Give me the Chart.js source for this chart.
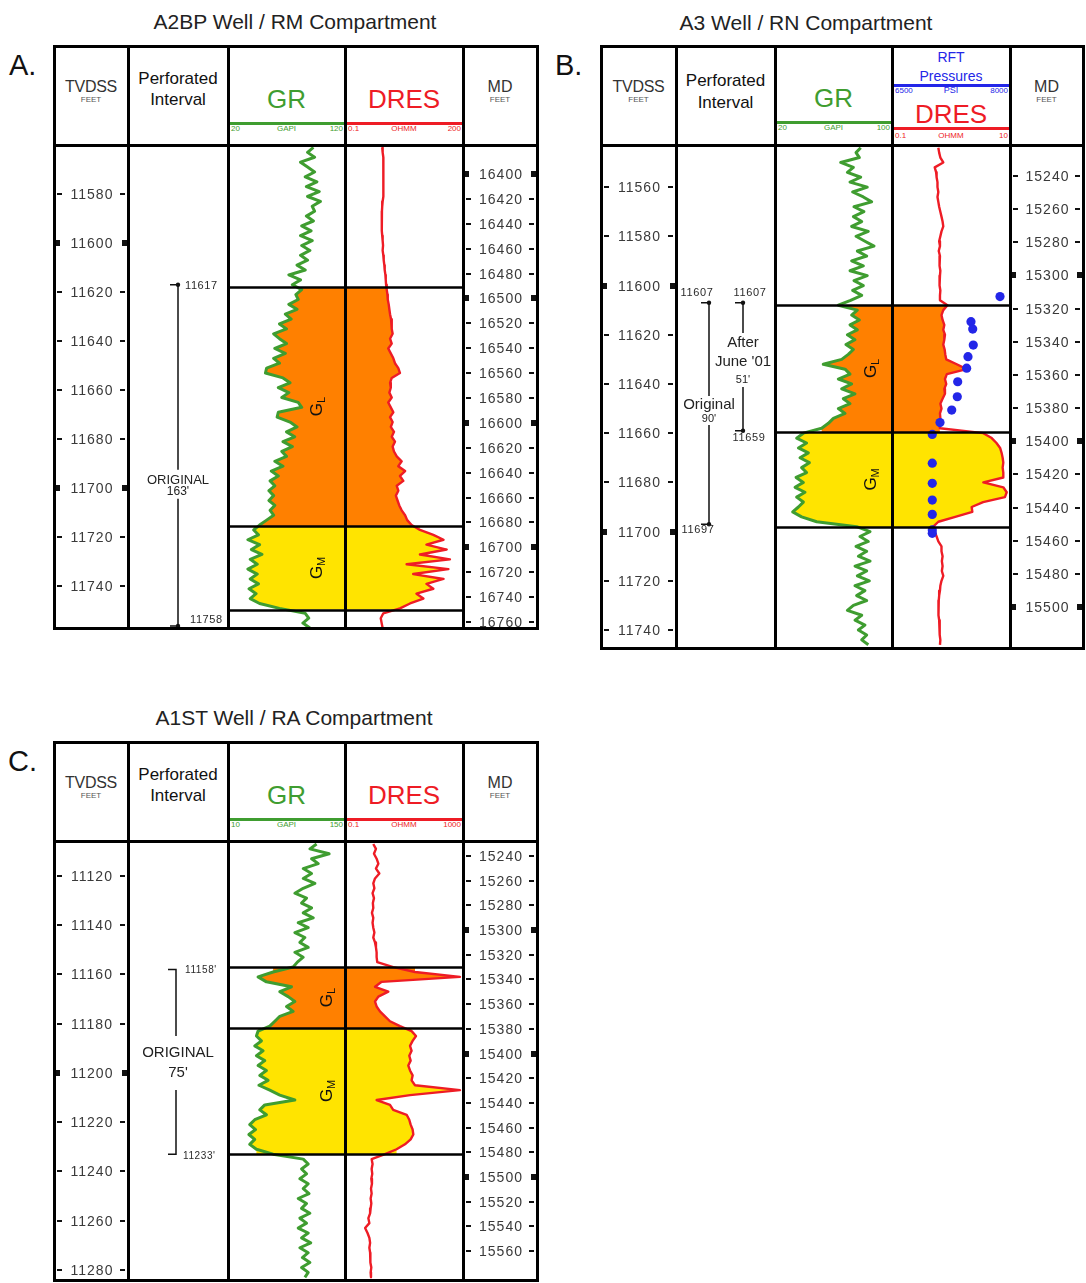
<!DOCTYPE html>
<html>
<head>
<meta charset="utf-8">
<title>Perforated intervals and log response</title>
<script src="https://cdn.jsdelivr.net/npm/chart.js@4.4.1/dist/chart.umd.min.js"></script>
<style>
  html, body { margin: 0; padding: 0; background: #fff; }
  #page { position: relative; width: 1086px; height: 1283px; overflow: hidden;
          font-family: "Liberation Sans", Arial, Helvetica, sans-serif; color: #222; }
  .txt { position: absolute; white-space: nowrap; line-height: 1; }
  .rule { position: absolute; background: #000; z-index: 5; }
  .panel { position: absolute; }
  canvas { position: absolute; display: block; }
</style>
</head>
<body>
<div id="page"></div>
<script>
// All log curves are listed on a regular TVDSS grid (feet).
const SAMPLE_STEP = 2;

// ---------- A2BP well / RM compartment ----------
const A_TVD_RANGE = [11560, 11757];
const A_MD_RANGE = [16376.7, 16764.8];
const A_TVD_TICKS = [11580, 11600, 11620, 11640, 11660, 11680, 11700, 11720, 11740];
const A_MD_TICKS = [16400, 16420, 16440, 16460, 16480, 16500, 16520, 16540, 16560, 16580,
                    16600, 16620, 16640, 16660, 16680, 16700, 16720, 16740, 16760];
const A_GR_SCALE = [20, 120];
const A_DRES_SCALE = [0.1, 200];
const A_FIRST_SAMPLE = 11561;
const A_GR = [
  93, 88, 94, 82, 88, 94, 86, 96, 87, 98,
  88, 99, 92, 94, 87, 93, 83, 91, 82, 92,
  83, 90, 82, 88, 79, 86, 72, 82, 75, 83,
  78, 80, 72, 79, 69, 74, 64, 70, 59, 64,
  70, 60, 69, 59, 64, 53, 52, 67, 73, 63,
  72, 66, 80, 83, 63, 62, 73, 79, 70, 77,
  67, 75, 66, 70, 60, 67, 57, 63, 56, 60,
  55, 59, 55, 60, 56, 59, 53, 47, 42, 46,
  37, 47, 40, 49, 39, 45, 37, 45, 39, 46,
  38, 44, 39, 47, 64, 86, 89, 84, 90
];
const A_DRES = [
  1.10, 1.13, 1.18, 1.16, 1.21, 1.18, 1.21, 1.16, 1.21, 1.18,
  1.16, 1.13, 1.10, 1.08, 1.08, 1.06, 1.08, 1.06, 1.10, 1.13,
  1.16, 1.13, 1.18, 1.21, 1.26, 1.29, 1.35, 1.38, 1.41, 1.47,
  1.54, 1.57, 1.67, 1.74, 1.82, 1.94, 2.03, 2.03, 2.15, 1.82,
  2.03, 1.62, 1.91, 2.25, 2.50, 3.10, 3.45, 2.03, 1.82, 1.91,
  1.74, 2.03, 1.62, 1.91, 2.25, 1.82, 2.15, 1.91, 2.35, 2.03,
  2.50, 2.15, 2.35, 2.80, 3.85, 3.10, 4.80, 3.45, 4.28, 2.80,
  3.10, 2.65, 2.95, 3.30, 3.85, 4.80, 5.50, 7.30, 12.5, 29.6,
  57, 19, 70, 12.5, 86, 5.3, 78, 8.1, 57, 19,
  29.6, 10, 15.6, 6.6, 3.45, 1.18, 1.00, 1.06, 1.13
];
const A_ZONE_NAMES = ['L', 'M'];
const A_ZONE_TOPS = [11617.9, 11715.4];
const A_ZONE_BASES = [11715.4, 11749.6];
const A_PERF_TOPS = [11617];
const A_PERF_BASES = [11758];
const A_PERF_NOTES = [['ORIGINAL', "163'"]];

// ---------- A3 well / RN compartment ----------
const B_TVD_RANGE = [11542.9, 11747.3];
const B_MD_RANGE = [15221.3, 15524.7];
const B_TVD_TICKS = [11560, 11580, 11600, 11620, 11640, 11660, 11680, 11700, 11720, 11740];
const B_MD_TICKS = [15240, 15260, 15280, 15300, 15320, 15340, 15360, 15380, 15400, 15420,
                    15440, 15460, 15480, 15500];
const B_GR_SCALE = [20, 100];
const B_DRES_SCALE = [0.1, 10];
const B_RFT_SCALE = [6500, 8000];
const B_FIRST_SAMPLE = 11544;
const B_GR = [
  78.6, 75.4, 77.7, 64.9, 73.6, 69.5, 78.6, 71.3, 83.1, 73.1,
  80.4, 86.1, 74.0, 80.8, 73.6, 79.3, 72.4, 83.8, 75.4, 81.5,
  87.7, 76.3, 82.7, 72.4, 80.4, 71.3, 83.1, 74.0, 80.4, 73.1,
  79.3, 71.7, 63.3, 76.3, 72.4, 77.7, 71.3, 76.3, 69.5, 74.7,
  68.5, 73.6, 70.1, 65.6, 53.0, 67.9, 71.3, 63.3, 72.4, 65.6,
  74.7, 66.7, 71.3, 63.3, 67.9, 59.9, 56.5, 51.9, 39.4, 34.8,
  41.6, 36.0, 42.8, 37.1, 43.5, 38.2, 41.6, 34.4, 39.4, 33.7,
  40.5, 34.8, 39.4, 36.0, 32.1, 38.2, 48.5, 75.8, 85.0, 78.1,
  83.8, 75.4, 82.7, 77.0, 85.0, 74.7, 82.7, 76.3, 84.5, 74.7,
  81.5, 75.8, 82.7, 73.6, 69.5, 79.3, 74.7, 81.5, 77.0, 82.7,
  79.3, 83.8
];
const B_DRES = [
  0.61, 0.63, 0.66, 0.74, 0.53, 0.56, 0.57, 0.59, 0.59, 0.61,
  0.59, 0.61, 0.63, 0.66, 0.69, 0.72, 0.74, 0.69, 0.66, 0.63,
  0.65, 0.62, 0.65, 0.63, 0.65, 0.66, 0.65, 0.63, 0.65, 0.66,
  0.65, 0.65, 0.87, 0.74, 0.69, 0.72, 0.77, 0.74, 0.79, 0.77,
  0.74, 0.78, 0.80, 0.83, 1.25, 1.84, 0.85, 0.79, 0.83, 0.77,
  0.79, 0.72, 0.66, 0.69, 0.65, 0.66, 0.63, 0.65, 3.53, 4.90,
  5.90, 6.80, 7.20, 7.50, 7.70, 7.50, 7.70, 7.70, 3.53, 7.70,
  8.80, 8.20, 3.50, 2.24, 2.30, 1.18, 0.61, 0.50, 0.53, 0.57,
  0.61, 0.69, 0.69, 0.72, 0.70, 0.72, 0.70, 0.74, 0.69, 0.66,
  0.65, 0.63, 0.62, 0.61, 0.61, 0.62, 0.63, 0.63, 0.65, 0.65,
  0.66, 0.65
];
const B_RFT_DEPTHS = [11604.5, 11614.7, 11617.7, 11624.2, 11628.9, 11633.6, 11639.1, 11645.2,
                      11650.6, 11655.7, 11660.5, 11672.2, 11680.4, 11687.2, 11693.0, 11699.3, 11700.7];
const B_RFT_PSI = [7873, 7504, 7526, 7533, 7466, 7449, 7335, 7330,
                   7259, 7110, 7012, 7012, 7012, 7012, 7012, 7012, 7012];
const B_ZONE_NAMES = ['L', 'M'];
const B_ZONE_TOPS = [11607.9, 11659.5];
const B_ZONE_BASES = [11659.5, 11698.1];
const B_PERF_TOPS = [11607, 11607];
const B_PERF_BASES = [11697, 11659];
const B_PERF_NOTES = [['Original', "90'"], ['After', "June '01", "51'"]];

// ---------- A1ST well / RA compartment ----------
const C_TVD_RANGE = [11105.8, 11284.1];
const C_MD_RANGE = [15227.8, 15583.5];
const C_TVD_TICKS = [11120, 11140, 11160, 11180, 11200, 11220, 11240, 11260, 11280];
const C_MD_TICKS = [15240, 15260, 15280, 15300, 15320, 15340, 15360, 15380, 15400, 15420,
                    15440, 15460, 15480, 15500, 15520, 15540, 15560];
const C_GR_SCALE = [10, 150];
const C_DRES_SCALE = [0.1, 1000];
const C_FIRST_SAMPLE = 11107;
const C_GR = [
  116, 108, 131, 110, 118, 100, 110, 100, 114, 100,
  90, 104, 98, 110, 100, 112, 94, 106, 90, 102,
  96, 106, 90, 100, 93, 88, 64, 46, 56, 86,
  72, 82, 90, 80, 88, 72, 66, 60, 46, 44,
  50, 42, 52, 44, 54, 46, 56, 48, 58, 47,
  60, 72, 90, 54, 48, 56, 42, 36, 43, 35,
  42, 36, 44, 64, 100, 106, 98, 104, 96, 106,
  100, 107, 94, 104, 98, 108, 96, 104, 94, 106,
  98, 109, 96, 106, 99, 108, 98, 106, 102
];
const C_DRES = [
  0.91, 1.12, 0.96, 1.18, 1.35, 1.12, 1.46, 1.04, 0.91, 0.99,
  0.86, 0.96, 0.88, 0.91, 0.82, 0.91, 0.86, 0.91, 0.99, 0.91,
  1.04, 1.12, 1.18, 1.18, 1.24, 4.3, 23.6, 790, 1.75, 1.04,
  2.94, 1.35, 1.04, 1.18, 1.53, 2.27, 3.35, 7.3, 18.1, 25.5,
  19.6, 16.0, 18.1, 15.1, 16.8, 14.0, 16.0, 19.6, 18.1, 23.6,
  790, 16.0, 1.18, 3.35, 4.3, 12.3, 15.1, 16.8, 19.6, 20.7,
  16.8, 10.8, 5.6, 2.27, 0.80, 0.86, 0.80, 0.84, 0.78, 0.82,
  0.76, 0.80, 0.74, 0.78, 0.74, 0.71, 0.62, 0.67, 0.48, 0.58,
  0.67, 0.71, 0.67, 0.71, 0.74, 0.71, 0.78, 0.74, 0.76
];
const C_ZONE_NAMES = ['L', 'M'];
const C_ZONE_TOPS = [11157.0, 11181.7];
const C_ZONE_BASES = [11181.7, 11232.9];
const C_PERF_TOPS = [11158];
const C_PERF_BASES = [11233];
const C_PERF_NOTES = [['ORIGINAL', "75'"]];

// ---------- styling ----------
const GREEN = '#3f9d30';
const RED = '#ee1c25';
const BLUE = '#2326e8';
const ZONE_FILL = { L: '#ff8000', M: '#ffe400' };
const FONT = '"Liberation Sans", Arial, Helvetica, sans-serif';

const PANELS = [
  {
    letter: 'A.', letterAt: [9, 51], title: 'A2BP Well / RM Compartment', titleAt: [295, 21],
    left: 54, top: 46, cols: [0, 74, 174, 291, 409, 483], headerH: 99, bodyH: 483,
    tvdRange: A_TVD_RANGE, mdRange: A_MD_RANGE, tvdTicks: A_TVD_TICKS, mdTicks: A_MD_TICKS,
    first: A_FIRST_SAMPLE, gr: A_GR, dres: A_DRES, grScale: A_GR_SCALE, dresScale: A_DRES_SCALE,
    zoneNames: A_ZONE_NAMES, zoneTops: A_ZONE_TOPS, zoneBases: A_ZONE_BASES, zoneLabelInset: 28,
    hdr: { perf: [32, 53], gr: { name: 53, rule: 77, scale: 83 }, dres: { name: 53, rule: 77, scale: 83 } },
    perf: {
      tops: A_PERF_TOPS, bases: A_PERF_BASES, notes: A_PERF_NOTES, suffix: '',
      layout: [{ x: 50, hook: 8, tips: true, labelSize: 11,
                 topLabel: { dx: 7, dy: 1, align: 'left' }, baseLabel: { dx: 12, dy: -6, align: 'left' },
                 noteDepth: 11699, noteDx: 0, gap: [16, 13],
                 noteLines: [{ size: 13, dy: -5 }, { size: 12, dy: 6 }] }]
    }
  },
  {
    letter: 'B.', letterAt: [555, 51], title: 'A3 Well / RN Compartment', titleAt: [806, 22],
    left: 601, top: 46, cols: [0, 75, 174, 291, 409, 482], headerH: 99, bodyH: 503,
    tvdRange: B_TVD_RANGE, mdRange: B_MD_RANGE, tvdTicks: B_TVD_TICKS, mdTicks: B_MD_TICKS,
    first: B_FIRST_SAMPLE, gr: B_GR, dres: B_DRES, grScale: B_GR_SCALE, dresScale: B_DRES_SCALE,
    zoneNames: B_ZONE_NAMES, zoneTops: B_ZONE_TOPS, zoneBases: B_ZONE_BASES, zoneLabelInset: 21,
    rft: { depths: B_RFT_DEPTHS, psi: B_RFT_PSI, scale: B_RFT_SCALE },
    hdr: { perf: [34, 56], gr: { name: 52, rule: 76, scale: 82 }, dres: { name: 68, rule: 82, scale: 90 },
           rft: { lines: [11, 30], rule: 39, scale: 45 } },
    perf: {
      tops: B_PERF_TOPS, bases: B_PERF_BASES, notes: B_PERF_NOTES, suffix: '',
      layout: [
        { x: 33, hook: 8, tips: true, labelSize: 11,
          topLabel: { dx: -12, dy: -10, align: 'center' }, baseLabel: { dx: -11, dy: 6, align: 'center' },
          noteDepth: 11651, noteDx: 0, gap: [15, 14],
          noteLines: [{ size: 15, dy: -6 }, { size: 11, dy: 8 }] },
        { x: 67, hook: 8, tips: true, labelSize: 11,
          topLabel: { dx: 7, dy: -10, align: 'center' }, baseLabel: { dx: 6, dy: 7, align: 'center' },
          noteDepth: 11630.7, noteDx: 0, gap: [28, 26],
          noteLines: [{ size: 15, dy: -18 }, { size: 15, dy: 1 }, { size: 11, dy: 19 }] }
      ]
    }
  },
  {
    letter: 'C.', letterAt: [8, 747], title: 'A1ST Well / RA Compartment', titleAt: [294, 717],
    left: 54, top: 742, cols: [0, 74, 174, 291, 409, 483], headerH: 99, bodyH: 439,
    tvdRange: C_TVD_RANGE, mdRange: C_MD_RANGE, tvdTicks: C_TVD_TICKS, mdTicks: C_MD_TICKS,
    first: C_FIRST_SAMPLE, gr: C_GR, dres: C_DRES, grScale: C_GR_SCALE, dresScale: C_DRES_SCALE,
    zoneNames: C_ZONE_NAMES, zoneTops: C_ZONE_TOPS, zoneBases: C_ZONE_BASES, zoneLabelInset: 18,
    hdr: { perf: [32, 53], gr: { name: 53, rule: 77, scale: 83 }, dres: { name: 53, rule: 77, scale: 83 } },
    perf: {
      tops: C_PERF_TOPS, bases: C_PERF_BASES, notes: C_PERF_NOTES, suffix: "'",
      layout: [{ x: 48, hook: 8, tips: false, labelSize: 10,
                 topLabel: { dx: 9, dy: 1, align: 'left' }, baseLabel: { dx: 7, dy: 2, align: 'left' },
                 noteDepth: 11196, noteDx: 2, gap: [27, 27],
                 noteLines: [{ size: 15, dy: -10 }, { size: 15, dy: 10 }] }]
    }
  }
];

const BASE_OPTIONS = {
  responsive: false,
  animation: false,
  events: [],
  layout: { padding: 0, autoPadding: false },
  plugins: { legend: { display: false }, tooltip: { enabled: false } }
};

// ---------- helpers ----------
const page = document.getElementById('page');

function text(parent, str, x, y, css, anchor) {
  const d = document.createElement('div');
  d.className = 'txt';
  d.textContent = str;
  d.style.left = x + 'px';
  d.style.top = y + 'px';
  const tx = anchor === 'left' ? '0' : anchor === 'right' ? '-100%' : '-50%';
  d.style.transform = 'translate(' + tx + ', -50%)';
  Object.assign(d.style, css || {});
  parent.appendChild(d);
  return d;
}

function rule(parent, x, y, w, h, color) {
  const d = document.createElement('div');
  d.className = 'rule';
  Object.assign(d.style, { left: x + 'px', top: y + 'px', width: w + 'px', height: h + 'px' });
  if (color) { d.style.background = color; d.style.zIndex = 1; }
  parent.appendChild(d);
}

function canvasAt(parent, x, y, w, h) {
  const c = document.createElement('canvas');
  c.width = w; c.height = h;
  Object.assign(c.style, { left: x + 'px', top: y + 'px', width: w + 'px', height: h + 'px' });
  parent.appendChild(c);
  return c;
}

function curvePoints(first, values) {
  return values.map((v, i) => ({ x: v, y: first + i * SAMPLE_STEP }));
}

// Part of a curve lying inside one zone, closed at the zone top and base.
function zoneSlice(points, top, base) {
  const inside = points.filter(p => p.y > top && p.y < base);
  if (!inside.length) return [];
  return [{ x: inside[0].x, y: top }, ...inside, { x: inside[inside.length - 1].x, y: base }];
}

function depthScale(range, ticks) {
  const s = { type: 'linear', display: false, reverse: true, min: range[0], max: range[1] };
  if (ticks) s.afterBuildTicks = axis => { axis.ticks = ticks.map(v => ({ value: v })); };
  return s;
}

// ---------- plugins ----------
function depthLabelsPlugin(ticks, majorEvery) {
  return {
    id: 'depthLabels',
    afterDraw(chart) {
      const { ctx, chartArea: a } = chart;
      const s = chart.scales.y;
      const values = s.ticks && s.ticks.length ? s.ticks.map(t => t.value) : ticks;
      const cx = (a.left + a.right) / 2 + 1;
      ctx.save();
      ctx.font = '14px ' + FONT;
      ctx.letterSpacing = '1px';
      ctx.textAlign = 'center';
      ctx.textBaseline = 'middle';
      values.forEach(v => {
        const y = Math.round(s.getPixelForValue(v));
        ctx.fillStyle = '#3a3a3a';
        ctx.fillText(String(v), cx, y + 1);
        ctx.fillStyle = '#111';
        if (v % majorEvery === 0) {
          ctx.fillRect(a.left, y - 3, 6, 6);
          ctx.fillRect(a.right - 6, y - 3, 6, 6);
        } else {
          ctx.fillRect(a.left + 3, y - 1, 5, 2);
          ctx.fillRect(a.right - 8, y - 1, 5, 2);
        }
      });
      ctx.restore();
    }
  };
}

function perfPlugin(perf) {
  return {
    id: 'perfIntervals',
    afterDraw(chart) {
      const { ctx, chartArea: a } = chart;
      const s = chart.scales.y;
      ctx.save();
      perf.tops.forEach((top, i) => {
        const L = perf.layout[i];
        const base = perf.bases[i];
        const x = a.left + L.x;
        const y0 = Math.max(s.getPixelForValue(top), a.top + 2);
        const y1 = Math.min(s.getPixelForValue(base), a.bottom - 2);
        const yn = s.getPixelForValue(L.noteDepth);
        ctx.strokeStyle = '#111';
        ctx.lineWidth = 1.5;
        ctx.beginPath();
        ctx.moveTo(x - L.hook, y0); ctx.lineTo(x, y0); ctx.lineTo(x, yn - L.gap[0]);
        ctx.moveTo(x, yn + L.gap[1]); ctx.lineTo(x, y1); ctx.lineTo(x - L.hook, y1);
        ctx.stroke();
        if (L.tips) {
          ctx.fillStyle = '#111';
          [y0, y1].forEach(yy => { ctx.beginPath(); ctx.arc(x, yy, 2.2, 0, Math.PI * 2); ctx.fill(); });
        }
        ctx.fillStyle = '#2a2a2a';
        ctx.font = L.labelSize + 'px ' + FONT;
        ctx.letterSpacing = '0.6px';
        ctx.textBaseline = 'middle';
        ctx.textAlign = L.topLabel.align;
        ctx.fillText(top + perf.suffix, x + L.topLabel.dx, y0 + L.topLabel.dy);
        ctx.textAlign = L.baseLabel.align;
        ctx.fillText(base + perf.suffix, x + L.baseLabel.dx, y1 + L.baseLabel.dy);
        ctx.letterSpacing = '0px';
        ctx.textAlign = 'center';
        perf.notes[i].forEach((line, j) => {
          const st = L.noteLines[j];
          ctx.font = st.size + 'px ' + FONT;
          ctx.fillStyle = '#222';
          ctx.fillText(line, x + L.noteDx, yn + st.dy);
        });
      });
      ctx.restore();
    }
  };
}

function zonePlugin(P, withLabels) {
  return {
    id: 'zoneMarks',
    afterDatasetsDraw(chart) {
      const { ctx, chartArea: a } = chart;
      const s = chart.scales.y;
      ctx.save();
      ctx.strokeStyle = '#000';
      ctx.lineWidth = 2.6;
      const edges = [...new Set([...P.zoneTops, ...P.zoneBases])];
      edges.forEach(d => {
        const y = Math.round(s.getPixelForValue(d)) + 0.5;
        ctx.beginPath(); ctx.moveTo(a.left, y); ctx.lineTo(a.right, y); ctx.stroke();
      });
      if (withLabels) {
        ctx.fillStyle = '#111';
        ctx.textBaseline = 'middle';
        P.zoneNames.forEach((name, i) => {
          const ym = (s.getPixelForValue(P.zoneTops[i]) + s.getPixelForValue(P.zoneBases[i])) / 2;
          ctx.save();
          ctx.translate(a.right - P.zoneLabelInset, ym);
          ctx.rotate(-Math.PI / 2);
          ctx.font = '17px ' + FONT;
          const wG = ctx.measureText('G').width;
          ctx.font = '11px ' + FONT;
          const wS = ctx.measureText(name).width;
          const x0 = -(wG + wS) / 2;
          ctx.font = '17px ' + FONT;
          ctx.textAlign = 'left';
          ctx.fillText('G', x0, 0);
          ctx.font = '11px ' + FONT;
          ctx.fillText(name, x0 + wG, 5);
          ctx.restore();
        });
      }
      ctx.restore();
    }
  };
}

// ---------- chart builders ----------
function axisChart(canvas, range, ticks, majorEvery) {
  return new Chart(canvas, {
    type: 'scatter',
    data: { datasets: [] },
    options: Object.assign({}, BASE_OPTIONS, {
      scales: { x: { display: false, min: 0, max: 1 }, y: depthScale(range, ticks) }
    }),
    plugins: [depthLabelsPlugin(ticks, majorEvery)]
  });
}

function perfChart(canvas, P) {
  return new Chart(canvas, {
    type: 'scatter',
    data: { datasets: [] },
    options: Object.assign({}, BASE_OPTIONS, {
      scales: { x: { display: false, min: 0, max: 1 }, y: depthScale(P.tvdRange) }
    }),
    plugins: [perfPlugin(P.perf)]
  });
}

function logChart(canvas, P, kind) {
  const isGR = kind === 'gr';
  const values = isGR ? P.gr : P.dres;
  const sc = isGR ? P.grScale : P.dresScale;
  const pts = curvePoints(P.first, values);
  const fillTo = isGR ? sc[1] : sc[0];
  const datasets = [{
    label: isGR ? 'GR' : 'DRES',
    data: pts,
    borderColor: isGR ? GREEN : RED,
    borderWidth: isGR ? 3 : 2.4,
    borderJoinStyle: 'round',
    pointRadius: 0,
    tension: 0,
    fill: false,
    order: 1
  }];
  P.zoneNames.forEach((name, i) => {
    datasets.push({
      label: 'G' + name,
      data: zoneSlice(pts, P.zoneTops[i], P.zoneBases[i]),
      borderWidth: 0,
      pointRadius: 0,
      tension: 0,
      backgroundColor: ZONE_FILL[name],
      fill: { value: fillTo },
      order: 3
    });
  });
  const scales = {
    x: { type: isGR ? 'linear' : 'logarithmic', display: false, min: sc[0], max: sc[1] },
    y: depthScale(P.tvdRange)
  };
  if (!isGR && P.rft) {
    datasets.push({
      type: 'scatter',
      label: 'RFT pressure',
      data: P.rft.depths.map((d, i) => ({ x: P.rft.psi[i], y: d })),
      xAxisID: 'xp',
      pointRadius: 4.6,
      pointBackgroundColor: BLUE,
      pointBorderWidth: 0,
      showLine: false,
      order: 0
    });
    scales.xp = { type: 'linear', axis: 'x', position: 'bottom', display: false,
                  min: P.rft.scale[0], max: P.rft.scale[1] };
  }
  return new Chart(canvas, {
    type: 'line',
    data: { datasets },
    options: Object.assign({}, BASE_OPTIONS, { indexAxis: 'y', scales }),
    plugins: [zonePlugin(P, isGR)]
  });
}

// ---------- header ----------
function curveHeader(el, name, color, x0, x1, h, scale, unit, nameSize) {
  const cx = (x0 + x1) / 2;
  text(el, name, cx, h.name, { fontSize: (nameSize || 26) + 'px', color: color });
  rule(el, x0, h.rule - 1.5, x1 - x0, 3, color);
  const small = { fontSize: '8px', color: color };
  text(el, String(scale[0]), x0 + 3, h.scale, small, 'left');
  text(el, unit, cx, h.scale, small);
  text(el, String(scale[1]), x1 - 2, h.scale, small, 'right');
}

function buildHeader(el, P) {
  const c = P.cols;
  const mid = i => (c[i] + c[i + 1]) / 2;
  text(el, 'TVDSS', mid(0), 41, { fontSize: '16px', color: '#333', letterSpacing: '-0.3px' });
  text(el, 'FEET', mid(0), 54, { fontSize: '8px', color: '#555' });
  text(el, 'Perforated', mid(1), P.hdr.perf[0], { fontSize: '17px', color: '#111' });
  text(el, 'Interval', mid(1), P.hdr.perf[1], { fontSize: '17px', color: '#111' });
  curveHeader(el, 'GR', GREEN, c[2], c[3], P.hdr.gr, P.grScale, 'GAPI');
  if (P.rft) {
    const h = P.hdr.rft;
    text(el, 'RFT', mid(3), h.lines[0], { fontSize: '14px', color: BLUE });
    text(el, 'Pressures', mid(3), h.lines[1], { fontSize: '14px', color: BLUE });
    rule(el, c[3], h.rule - 1.5, c[4] - c[3], 3, BLUE);
    const small = { fontSize: '8px', color: BLUE };
    text(el, String(P.rft.scale[0]), c[3] + 3, h.scale, small, 'left');
    text(el, 'PSI', mid(3), h.scale - 1, { fontSize: '9px', color: BLUE });
    text(el, String(P.rft.scale[1]), c[4] - 2, h.scale, small, 'right');
  }
  curveHeader(el, 'DRES', RED, c[3], c[4], P.hdr.dres, P.dresScale, 'OHMM');
  text(el, 'MD', mid(4), 41, { fontSize: '16px', color: '#333' });
  text(el, 'FEET', mid(4), 54, { fontSize: '8px', color: '#555' });
}

// ---------- panels ----------
PANELS.forEach(P => {
  text(page, P.title, P.titleAt[0], P.titleAt[1], { fontSize: '21px', color: '#222' });
  const letter = text(page, P.letter, P.letterAt[0], P.letterAt[1], { fontSize: '29px', color: '#111' }, 'left');
  letter.style.transform = 'none';

  const el = document.createElement('div');
  el.className = 'panel';
  const W = P.cols[P.cols.length - 1];
  const H = P.headerH + P.bodyH;
  Object.assign(el.style, { left: P.left + 'px', top: P.top + 'px', width: W + 'px', height: H + 'px' });
  page.appendChild(el);

  buildHeader(el, P);

  const c = P.cols;
  const bodyTop = P.headerH;
  const cv = i => canvasAt(el, c[i], bodyTop, c[i + 1] - c[i], P.bodyH);
  axisChart(cv(0), P.tvdRange, P.tvdTicks, 100);
  perfChart(cv(1), P);
  logChart(cv(2), P, 'gr');
  logChart(cv(3), P, 'dres');
  axisChart(cv(4), P.mdRange, P.mdTicks, 100);

  // track frame
  c.forEach(x => rule(el, x - 1.5, -1.5, 3, H + 3));
  [0, P.headerH, H].forEach(y => rule(el, -1.5, y - 1.5, W + 3, 3));
});
</script>
</body>
</html>
